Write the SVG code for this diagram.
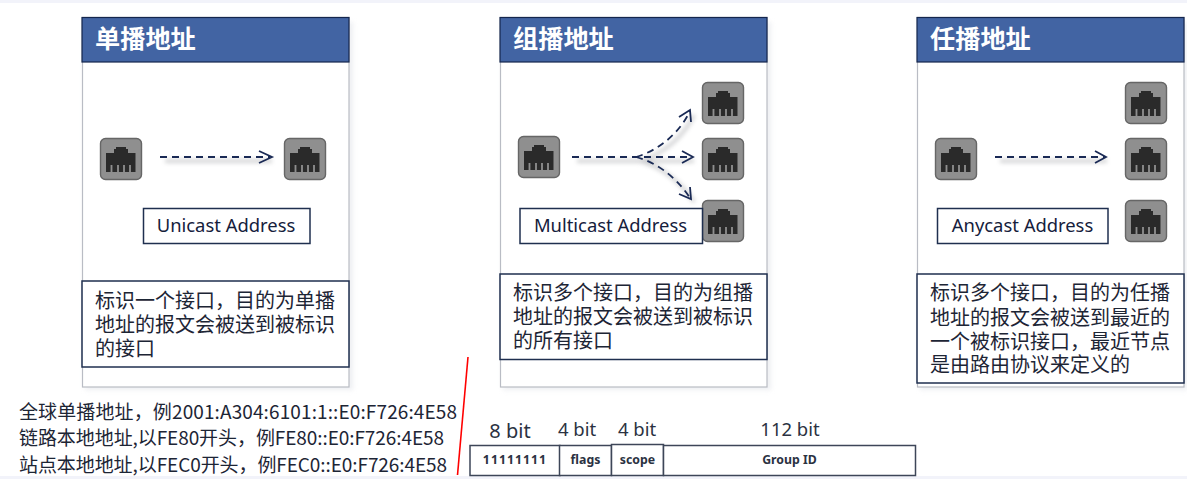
<svg xmlns="http://www.w3.org/2000/svg" width="1187" height="479" viewBox="0 0 1187 479">
<style>
text{font-family:"Noto Sans CJK SC","Noto Sans",sans-serif;fill:#1d2535}
.panel{fill:#fff;stroke:#b9bcc4;stroke-width:1.2}
.head{fill:#4264a3;stroke:#14264d;stroke-width:1.2}
.title{font-size:25.2px;font-weight:700;fill:#fff}
.box{fill:#fff;stroke:#1f2f4f;stroke-width:1.5}
.lab{font-size:18.4px;text-anchor:middle;font-family:"Noto Sans",sans-serif;fill:#15203c}
.desc{font-size:20px}
.note{font-size:19px}
.bit{font-size:18.5px;text-anchor:middle;font-family:"Noto Sans",sans-serif;fill:#2b3242}
.cell{fill:#fff;stroke:#3d4658;stroke-width:1.5}
.f{font-size:12.3px;font-weight:700;text-anchor:middle;font-family:"Noto Sans",sans-serif;fill:#2b3242}
.arrow{fill:none;stroke:#1a2a55;stroke-width:1.8;stroke-dasharray:7 5}
.tip{fill:none;stroke:#1a2a55;stroke-width:1.8}
.shadow{fill:none;stroke:#77797f;stroke-width:3.5;opacity:.35;filter:url(#bl)}
.icon{filter:url(#soft)}
</style>
<defs>
<filter id="bl" filterUnits="userSpaceOnUse" x="0" y="0" width="1187" height="479"><feGaussianBlur stdDeviation="2"/></filter>
<filter id="soft" x="-10%" y="-10%" width="120%" height="120%"><feGaussianBlur stdDeviation="0.5"/></filter>
<filter id="ps" x="-5%" y="-5%" width="112%" height="112%"><feGaussianBlur stdDeviation="2.5"/></filter>
<g id="rj">
<rect x="0.5" y="0.5" width="41" height="41" rx="5" fill="#8f8f8f" stroke="#666" stroke-width="1.4"/>
<path d="M6 15H14V11H16V9H26V11H28V15H35.500V34H6Z" fill="#2c2c2c"/>
<path d="M11.500 27V34M18 27V34M24 27V34M30 27V34" stroke="#8f8f8f" stroke-width="1.800" fill="none"/>
</g>
</defs>
<rect width="1187" height="479" fill="#fff"/>
<rect width="1187" height="3" fill="#f2f3fa"/>
<rect y="476" width="1187" height="3" fill="#f2f3fa"/>
<rect x="85" y="22" width="268" height="368" fill="#dde0e6" opacity=".5" filter="url(#ps)"/>
<rect x="503" y="22" width="268" height="368" fill="#dde0e6" opacity=".5" filter="url(#ps)"/>
<rect x="920" y="22" width="267" height="368" fill="#dde0e6" opacity=".5" filter="url(#ps)"/>

<g id="unicast">
<rect class="panel" x="82.500" y="17.500" width="266.500" height="369.500"/>
<rect class="head" x="82" y="17.500" width="267" height="44.500"/>
<text class="title" x="95" y="48">单播地址</text>
<use class="icon" href="#rj" x="100" y="138"/>
<use class="icon" href="#rj" x="284" y="138"/>
<rect class="box" x="143.500" y="208.500" width="166.500" height="35"/>
<text class="lab" x="226" y="231.500">Unicast Address</text>
<rect class="box" x="82" y="281" width="267" height="86"/>
<text class="desc" x="95" y="308">标识一个接口&#xFF0C;目的为单播</text>
<text class="desc" x="95" y="332">地址的报文会被送到被标识</text>
<text class="desc" x="95" y="356">的接口</text>
</g>

<g id="multicast">
<rect class="panel" x="500.500" y="17.500" width="266.500" height="369.500"/>
<rect class="head" x="500" y="17.500" width="267" height="44.500"/>
<text class="title" x="513" y="48">组播地址</text>
<use class="icon" href="#rj" x="518" y="136"/>
<use class="icon" href="#rj" x="702" y="82"/>
<use class="icon" href="#rj" x="702" y="138"/>
<use class="icon" href="#rj" x="702" y="200"/>
<rect class="box" x="520" y="208.500" width="182.500" height="35"/>
<text class="lab" x="610.500" y="231.500">Multicast Address</text>
<rect class="box" x="500" y="274" width="267" height="85.500"/>
<text class="desc" x="513" y="300">标识多个接口&#xFF0C;目的为组播</text>
<text class="desc" x="513" y="324">地址的报文会被送到被标识</text>
<text class="desc" x="513" y="348">的所有接口</text>
</g>

<g id="anycast">
<rect class="panel" x="917.500" y="17.500" width="266.500" height="369.500"/>
<rect class="head" x="917" y="17.500" width="267" height="44.500"/>
<text class="title" x="930" y="48">任播地址</text>
<use class="icon" href="#rj" x="935" y="138"/>
<use class="icon" href="#rj" x="1125" y="82"/>
<use class="icon" href="#rj" x="1125" y="138"/>
<use class="icon" href="#rj" x="1125" y="200"/>
<rect class="box" x="937.500" y="208.500" width="170.500" height="35"/>
<text class="lab" x="1022.500" y="231.500">Anycast Address</text>
<rect class="box" x="917" y="274" width="267" height="109"/>
<text class="desc" x="930" y="300">标识多个接口&#xFF0C;目的为任播</text>
<text class="desc" x="930" y="325">地址的报文会被送到最近的</text>
<text class="desc" x="930" y="349">一个被标识接口&#xFF0C;最近节点</text>
<text class="desc" x="930" y="372">是由路由协议来定义的</text>
</g>

<g id="connectors">
<path class="shadow" d="M165 161H272"/>
<path class="shadow" d="M577 161H694M640 161C664 154 684 136 694 115M640 161C664 167 684 186 694 202"/>
<path class="shadow" d="M1000 161H1107"/>
<path class="arrow" d="M160 157H270"/>
<path class="tip" d="M259 151L272 157L259 163"/>
<path class="arrow" d="M572 157H692"/>
<path class="tip" d="M682 151L693 157L682 163"/>
<path class="arrow" d="M636 157C660 150 680 132 690 111"/>
<path class="tip" d="M679 117L690 110L691 122"/>
<path class="arrow" d="M636 157C660 163 680 182 690 198"/>
<path class="tip" d="M679 194L691 199L690 187"/>
<path class="arrow" d="M995 157H1105"/>
<path class="tip" d="M1095 151L1106 157L1095 163"/>
<path d="M468 357L457.500 475" fill="none" stroke="#f00" stroke-width="1.600"/>
</g>

<g id="notes">
<text class="note" x="19" y="419" textLength="438">全球单播地址&#xFF0C;例2001:A304:6101:1::E0:F726:4E58</text>
<text class="note" x="19" y="445" textLength="425">链路本地地址,以FE80开头&#xFF0C;例FE80::E0:F726:4E58</text>
<text class="note" x="19" y="472" textLength="428">站点本地地址,以FEC0开头&#xFF0C;例FEC0::E0:F726:4E58</text>
</g>

<g id="multicast-format">
<text class="bit" x="510" y="438" style="font-size:20px">8 bit</text>
<text class="bit" x="577" y="436">4 bit</text>
<text class="bit" x="637" y="436">4 bit</text>
<text class="bit" x="790" y="436">112 bit</text>
<rect class="cell" x="470" y="445.500" width="90" height="30"/>
<rect class="cell" x="559.500" y="445.500" width="52" height="30"/>
<rect class="cell" x="611.500" y="444.500" width="52" height="31"/>
<rect class="cell" x="663.500" y="445.500" width="252" height="30"/>
<text class="f" x="515" y="464" style="letter-spacing:1px">11111111</text>
<text class="f" x="585.500" y="464">flags</text>
<text class="f" x="637.500" y="464">scope</text>
<text class="f" x="789.500" y="464">Group ID</text>
</g>
</svg>
